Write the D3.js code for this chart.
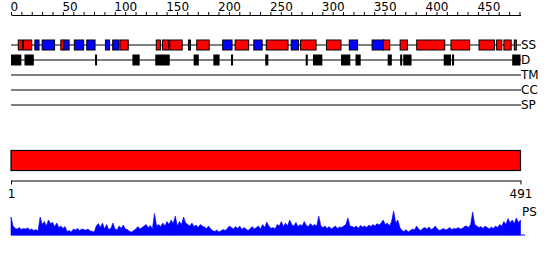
<!DOCTYPE html>
<html>
<head>
<meta charset="utf-8">
<script src="https://cdn.jsdelivr.net/npm/d3@7"></script>
<style>
  body { margin: 0; background: #fff; }
  text { font-family: "DejaVu Sans", sans-serif; }
</style>
</head>
<body>
<script>
var width = 550,
    height = 260,
    seqLength = 491;

// secondary structure: [start, end, type]  H = helix (red), E = strand (blue)
var ssStart = [7, 12, 23, 30, 48, 51, 61, 73, 91, 98, 105, 140, 146, 153, 171, 179, 204, 216, 234, 246, 270, 279, 304, 326, 348, 359, 375, 391, 424, 451, 468, 475, 485];
var ssEnd   = [11, 20, 27, 42, 51, 56, 70, 81, 95, 104, 113, 144, 152, 165, 173, 191, 213, 229, 242, 267, 277, 294, 318, 334, 359, 365, 382, 418, 442, 466, 473, 482, 487];
var ssType  = ["H", "H", "E", "E", "H", "E", "E", "E", "E", "E", "H", "H", "H", "H", "E", "H", "E", "H", "E", "H", "E", "H", "H", "E", "E", "H", "H", "H", "H", "H", "H", "H", "H"];

// disordered regions
var disStart = [0, 13, 81, 117, 139, 176, 195, 212, 245, 284, 291, 318, 332, 363, 375, 378, 417, 425, 483];
var disEnd   = [10, 22, 82, 124, 153, 181, 201, 214, 248, 286, 300, 327, 337, 367, 377, 386, 424, 427, 491];

var rowLabels = ["SS", "D", "TM", "CC", "SP"];

// domain bar
var domainStart = [1];
var domainEnd = [491];

// PS profile, one value every 2 residues (1, 3, 5 ... 491)
var psValues = [
    0.6, 0.3, 0.22, 0.2, 0.25, 0.18, 0.22, 0.2, 0.24, 0.17, 0.2, 0.15, 0.18, 0.13,
    0.6, 0.35,
    0.45, 0.3, 0.5, 0.38, 0.42, 0.28, 0.4, 0.25, 0.3, 0.22, 0.28,
    0.12, 0.15, 0.1, 0.2, 0.17, 0.22, 0.15, 0.2, 0.18, 0.16, 0.2, 0.14, 0.12, 0.1,
    0.3, 0.38, 0.25, 0.4, 0.2, 0.35, 0.18, 0.22,
    0.4, 0.2, 0.17, 0.3, 0.22, 0.33, 0.2, 0.18, 0.12, 0.1, 0.15, 0.2, 0.28, 0.2, 0.25,
    0.3, 0.35, 0.25, 0.32, 0.2,
    0.72, 0.3,
    0.35, 0.28, 0.4, 0.3, 0.45, 0.35, 0.5, 0.38, 0.63, 0.3, 0.45, 0.35, 0.6, 0.4,
    0.35, 0.3, 0.4, 0.28, 0.33, 0.25, 0.35, 0.3, 0.27, 0.22, 0.3, 0.2,
    0.15, 0.12, 0.17, 0.1, 0.14, 0.18, 0.15,
    0.22, 0.3, 0.25, 0.2, 0.28, 0.22, 0.3, 0.18, 0.25, 0.2, 0.15, 0.22, 0.28, 0.2, 0.25, 0.3, 0.2, 0.35, 0.25, 0.43, 0.3, 0.22, 0.25,
    0.2, 0.35, 0.3, 0.45, 0.28, 0.4, 0.3, 0.5, 0.35, 0.3, 0.42, 0.28, 0.35, 0.3, 0.45, 0.32, 0.28, 0.38, 0.3, 0.35, 0.3,
    0.63, 0.3,
    0.25, 0.3, 0.22, 0.28, 0.2, 0.25, 0.3, 0.22, 0.27, 0.25, 0.3, 0.35,
    0.57, 0.3,
    0.28, 0.25, 0.3, 0.22, 0.32, 0.27, 0.3, 0.25, 0.33, 0.28, 0.35, 0.3, 0.38, 0.33, 0.4,
    0.5, 0.35, 0.4, 0.3, 0.45, 0.8, 0.4, 0.5, 0.25,
    0.15, 0.12, 0.18, 0.1, 0.15, 0.2, 0.17, 0.3, 0.2, 0.15, 0.22, 0.25, 0.2, 0.27, 0.18, 0.22, 0.3,
    0.2, 0.15, 0.18, 0.22, 0.17, 0.2, 0.25, 0.18, 0.22, 0.2, 0.25, 0.2, 0.22, 0.28, 0.3, 0.25, 0.35,
    0.77, 0.35,
    0.3, 0.25, 0.28, 0.22, 0.3, 0.25, 0.2, 0.27, 0.22, 0.3, 0.25, 0.35, 0.3,
    0.45, 0.35, 0.55, 0.4, 0.5, 0.38, 0.57, 0.42, 0.5
];

var ssColor = { "H": "#ff0000", "E": "#0000ff" };

var x = d3.scaleLinear().domain([0, seqLength]).range([11, 520.5]);
var xb = d3.scaleLinear().domain([1, seqLength]).range([11, 520.5]);
var rowY = d3.scalePoint().domain(rowLabels).range([45, 105]);
var psY = d3.scaleLinear().domain([0, 1]).range([235, 205]);

var svg = d3.select("body").append("svg")
    .attr("width", width)
    .attr("height", height);

// top ruler
var topAxis = d3.axisTop(x)
    .tickValues(d3.range(0, seqLength, 10))
    .tickSize(3)
    .tickSizeOuter(0)
    .tickFormat(function(d) {
        return d % 50 === 0 ? d : "";
    });

var gTop = svg.append("g")
    .attr("transform", "translate(0,15)")
    .call(topAxis);
gTop.select(".domain").attr("stroke", "#000").attr("stroke-width", 1.2);
gTop.selectAll(".tick line").attr("stroke", "#000");
gTop.selectAll(".tick text")
    .attr("text-anchor", "start")
    .attr("x", -1)
    .attr("y", -4)
    .attr("font-size", "12px")
    .attr("font-family", "DejaVu Sans")
    .attr("fill", "#000");

// track lines with labels
svg.selectAll("line.track")
    .data(rowLabels)
    .enter().append("line")
    .attr("class", "track")
    .attr("x1", x(0))
    .attr("x2", 521)
    .attr("y1", function(d) { return rowY(d); })
    .attr("y2", function(d) { return rowY(d); })
    .attr("stroke", "#000")
    .attr("stroke-width", 1.2);

svg.selectAll("text.track")
    .data(rowLabels)
    .enter().append("text")
    .attr("class", "track")
    .attr("x", 521)
    .attr("y", function(d) { return rowY(d); })
    .attr("dy", "0.36em")
    .attr("font-size", "12px")
    .attr("fill", "#000")
    .text(function(d) { return d; });

// secondary structure boxes
var ssData = ssStart.map(function(s, i) {
    return { start: s, end: ssEnd[i], type: ssType[i] };
});

svg.selectAll("rect.ss")
    .data(ssData)
    .enter().append("rect")
    .attr("class", "ss")
    .attr("x", function(d) { return x(d.start); })
    .attr("y", rowY("SS") - 5)
    .attr("width", function(d) { return Math.max(2, x(d.end) - x(d.start)); })
    .attr("height", 10)
    .attr("fill", function(d) { return ssColor[d.type]; })
    .attr("stroke", "#000")
    .attr("stroke-width", 1);

// disorder boxes
var disData = disStart.map(function(s, i) {
    return { start: s, end: disEnd[i] };
});

svg.selectAll("rect.dis")
    .data(disData)
    .enter().append("rect")
    .attr("class", "dis")
    .attr("x", function(d) { return x(d.start); })
    .attr("y", rowY("D") - 5.5)
    .attr("width", function(d) { return Math.max(2, x(d.end) - x(d.start)); })
    .attr("height", 11)
    .attr("fill", "#000");

// domain bar
svg.selectAll("rect.domain")
    .data(domainStart)
    .enter().append("rect")
    .attr("class", "domain")
    .attr("x", function(d) { return xb(d); })
    .attr("y", 150.5)
    .attr("width", function(d, i) { return xb(domainEnd[i]) - xb(d); })
    .attr("height", 20)
    .attr("fill", "#ff0000")
    .attr("stroke", "#000")
    .attr("stroke-width", 1.2);

// bottom ruler
var bottomAxis = d3.axisBottom(xb)
    .tickValues([1, seqLength])
    .tickSize(4)
    .tickSizeOuter(0)
    .tickFormat(d3.format("d"));

var gBot = svg.append("g")
    .attr("transform", "translate(0,180.5)")
    .call(bottomAxis);
gBot.select(".domain").attr("stroke", "#000").attr("stroke-width", 1.2);
gBot.selectAll(".tick line").attr("stroke", "#000");
gBot.selectAll(".tick text")
    .attr("y", 9)
    .attr("font-size", "12px")
    .attr("font-family", "DejaVu Sans")
    .attr("fill", "#000");

svg.append("text")
    .attr("x", 522)
    .attr("y", 216)
    .attr("font-size", "12px")
    .attr("fill", "#000")
    .text("PS");

// PS profile
var area = d3.area()
    .x(function(d, i) { return xb(1 + 2 * i); })
    .y0(psY(0))
    .y1(function(d) { return psY(d); });

svg.append("path")
    .datum(psValues)
    .attr("d", area)
    .attr("fill", "#0000ff")
    .attr("stroke", "#0000ff")
    .attr("stroke-width", 0.6);

svg.append("line")
    .attr("x1", xb(1))
    .attr("x2", 525)
    .attr("y1", psY(0))
    .attr("y2", psY(0))
    .attr("stroke", "#0000ff")
    .attr("stroke-width", 1);
</script>
</body>
</html>
